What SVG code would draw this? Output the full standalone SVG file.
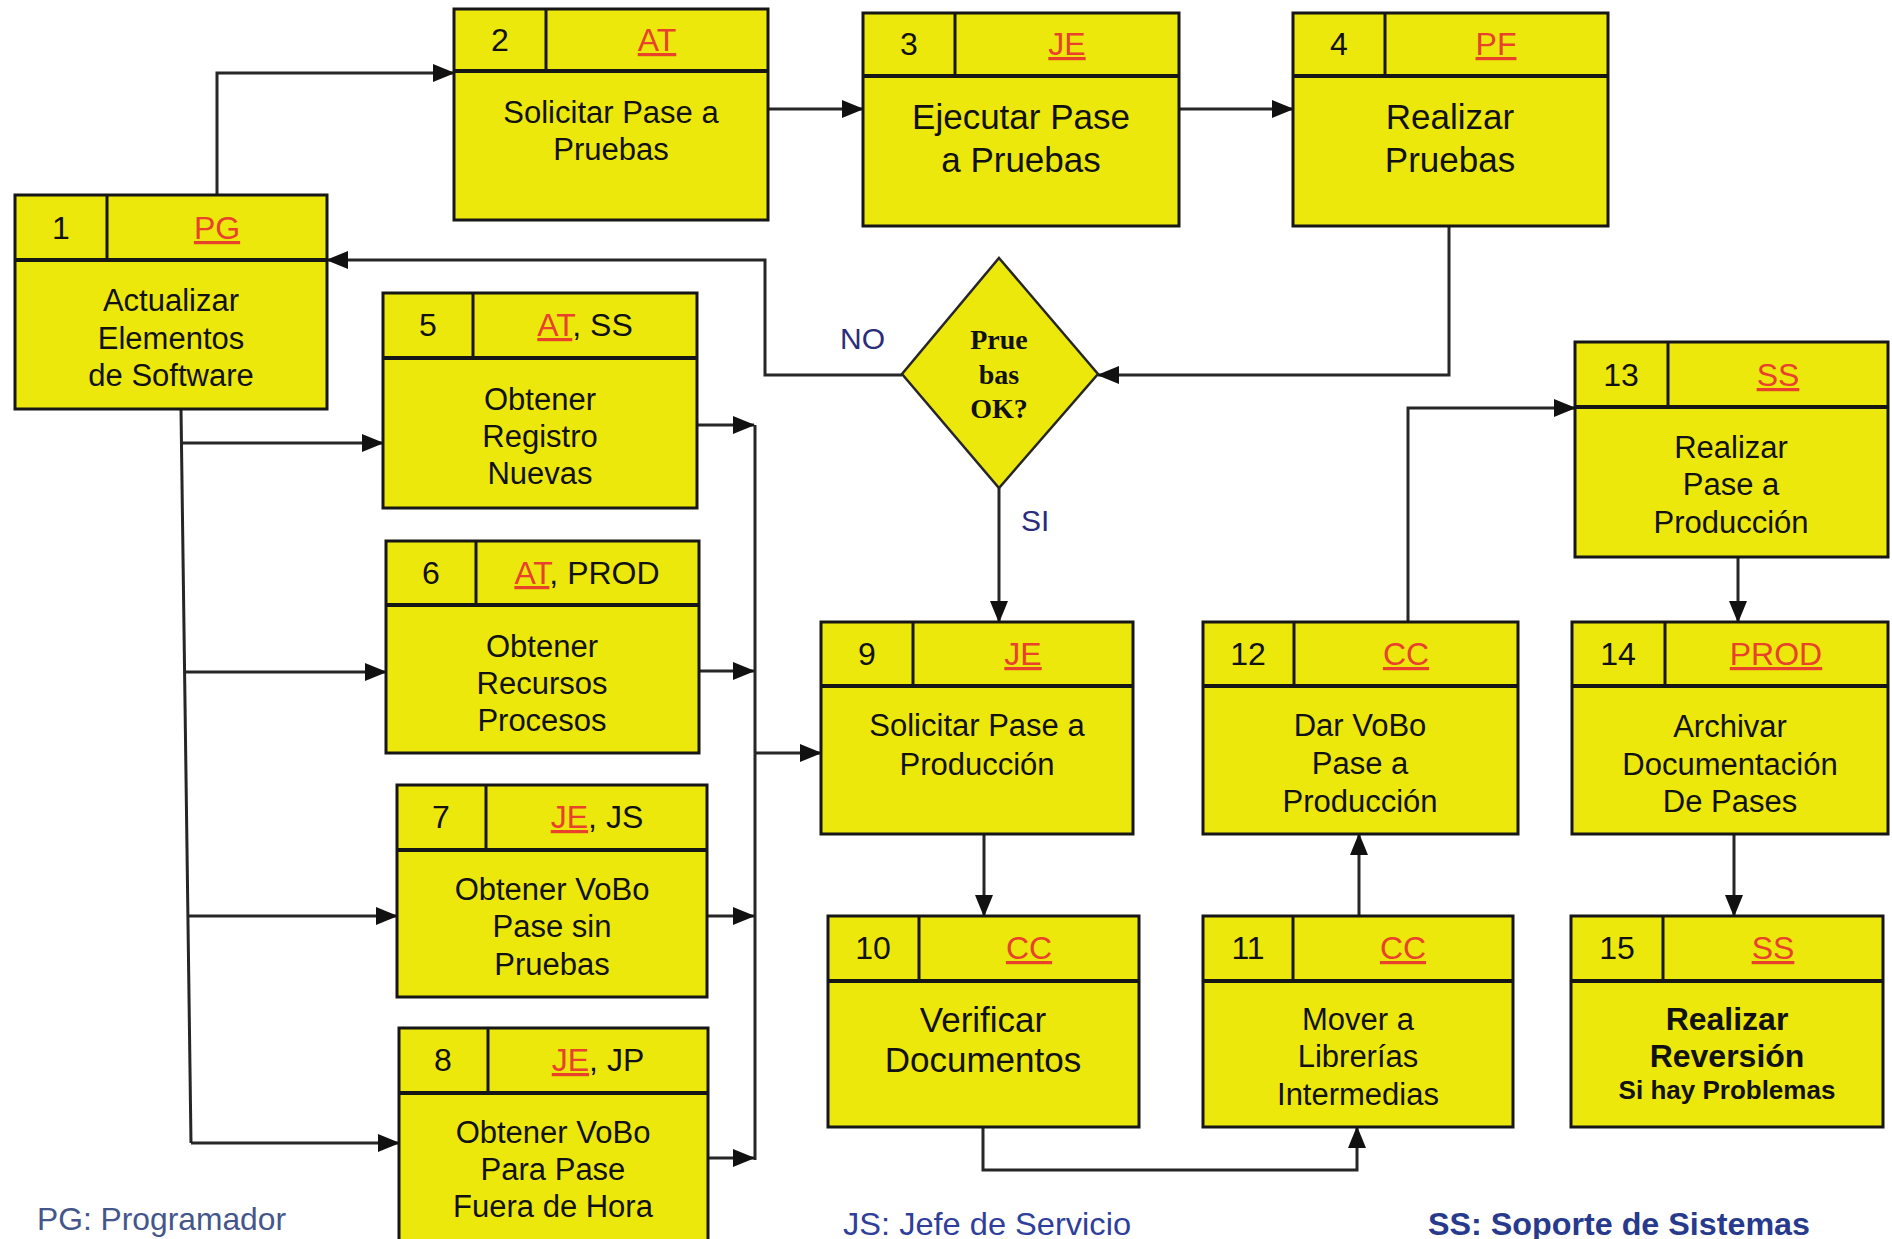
<svg xmlns="http://www.w3.org/2000/svg" width="1892" height="1239" viewBox="0 0 1892 1239">
  <style>
    .box { fill: #ece80c; stroke: #161616; stroke-width: 3; }
    .hsep { stroke: #161616; stroke-width: 4; }
    .vsep { stroke: #161616; stroke-width: 3; }
    .hdr { font-family: "Liberation Sans", Arial, sans-serif; font-size: 32px; fill: #111; text-anchor: middle; }
    .role { fill: #e8412c; text-decoration: underline; }
    .txt { font-family: "Liberation Sans", Arial, sans-serif; font-size: 31px; fill: #111; text-anchor: middle; }
    .big { font-size: 35px; }
    .bold { font-weight: bold; }
    .wire { fill: none; stroke: #262626; stroke-width: 3; }
    .dia { fill: #ece80c; stroke: #262626; stroke-width: 2.5; }
    .dtxt { font-family: "Liberation Serif", "Times New Roman", serif; font-size: 28px; font-weight: bold; fill: #111; text-anchor: middle; }
    .lbl { font-family: "Liberation Sans", Arial, sans-serif; font-size: 30px; fill: #2b2d7c; }
    .legend { font-family: "Liberation Sans", Arial, sans-serif; font-size: 32px; }
  </style>
  <defs>
    <marker id="arrow" markerUnits="userSpaceOnUse" markerWidth="22" markerHeight="18" refX="21" refY="9" orient="auto">
      <path d="M0,0 L22,9 L0,18 Z" fill="#111"/>
    </marker>
  </defs>

  <rect width="1892" height="1239" fill="#ffffff"/>

  <!-- connectors -->
  <g id="connectors">
    <path class="wire" d="M217,195 V73 H454" marker-end="url(#arrow)"/>
    <path class="wire" d="M768,109 H863" marker-end="url(#arrow)"/>
    <path class="wire" d="M1179,109 H1293" marker-end="url(#arrow)"/>
    <path class="wire" d="M1449,226 V375 H1098" marker-end="url(#arrow)"/>
    <path class="wire" d="M902,375 H765 V260 H327" marker-end="url(#arrow)"/>
    <path class="wire" d="M999,488 V622" marker-end="url(#arrow)"/>
    <!-- fan-out from step 1 -->
    <path class="wire" d="M181,409 L191,1143"/>
    <path class="wire" d="M181.5,443 H383" marker-end="url(#arrow)"/>
    <path class="wire" d="M184.6,672 H386" marker-end="url(#arrow)"/>
    <path class="wire" d="M188,916 H397" marker-end="url(#arrow)"/>
    <path class="wire" d="M191,1143 H399" marker-end="url(#arrow)"/>
    <!-- fan-in to step 9 -->
    <path class="wire" d="M697,425 H754" marker-end="url(#arrow)"/>
    <path class="wire" d="M699,671 H754" marker-end="url(#arrow)"/>
    <path class="wire" d="M707,916 H754" marker-end="url(#arrow)"/>
    <path class="wire" d="M708,1158 H754" marker-end="url(#arrow)"/>
    <path class="wire" d="M755,425 V1160"/>
    <path class="wire" d="M755,753 H821" marker-end="url(#arrow)"/>
    <!-- production flow -->
    <path class="wire" d="M984,834 V916" marker-end="url(#arrow)"/>
    <path class="wire" d="M983,1127 V1170 H1357 V1127" marker-end="url(#arrow)"/>
    <path class="wire" d="M1359,916 V834" marker-end="url(#arrow)"/>
    <path class="wire" d="M1408,622 V408 H1575" marker-end="url(#arrow)"/>
    <path class="wire" d="M1738,557 V622" marker-end="url(#arrow)"/>
    <path class="wire" d="M1734,834 V916" marker-end="url(#arrow)"/>
  </g>

  <!-- decision -->
  <g id="decision">
    <polygon class="dia" points="999,258 1098,374 999,488 902,374"/>
    <text class="dtxt" x="999" y="349">Prue</text>
    <text class="dtxt" x="999" y="384">bas</text>
    <text class="dtxt" x="999" y="418">OK?</text>
  </g>
  <text class="lbl" x="840" y="349">NO</text>
  <text class="lbl" x="1021" y="531">SI</text>

  <!-- step 1 -->
  <g id="step1">
    <rect class="box" x="15" y="195" width="312" height="214"/>
    <line class="hsep" x1="15" y1="260" x2="327" y2="260"/>
    <line class="vsep" x1="107" y1="195" x2="107" y2="260"/>
    <text class="hdr" x="61" y="239">1</text>
    <text class="hdr" x="217" y="239"><tspan class="role">PG</tspan></text>
    <text class="txt" x="171" y="311">Actualizar</text>
    <text class="txt" x="171" y="349">Elementos</text>
    <text class="txt" x="171" y="386">de Software</text>
  </g>

  <!-- step 2 -->
  <g id="step2">
    <rect class="box" x="454" y="9" width="314" height="211"/>
    <line class="hsep" x1="454" y1="71" x2="768" y2="71"/>
    <line class="vsep" x1="546" y1="9" x2="546" y2="71"/>
    <text class="hdr" x="500" y="51">2</text>
    <text class="hdr" x="657" y="51"><tspan class="role">AT</tspan></text>
    <text class="txt" x="611" y="123">Solicitar Pase a</text>
    <text class="txt" x="611" y="160">Pruebas</text>
  </g>

  <!-- step 3 -->
  <g id="step3">
    <rect class="box" x="863" y="13" width="316" height="213"/>
    <line class="hsep" x1="863" y1="76" x2="1179" y2="76"/>
    <line class="vsep" x1="955" y1="13" x2="955" y2="76"/>
    <text class="hdr" x="909" y="55">3</text>
    <text class="hdr" x="1067" y="55"><tspan class="role">JE</tspan></text>
    <text class="txt big" x="1021" y="129">Ejecutar Pase</text>
    <text class="txt big" x="1021" y="172">a Pruebas</text>
  </g>

  <!-- step 4 -->
  <g id="step4">
    <rect class="box" x="1293" y="13" width="315" height="213"/>
    <line class="hsep" x1="1293" y1="76" x2="1608" y2="76"/>
    <line class="vsep" x1="1385" y1="13" x2="1385" y2="76"/>
    <text class="hdr" x="1339" y="55">4</text>
    <text class="hdr" x="1496" y="55"><tspan class="role">PF</tspan></text>
    <text class="txt big" x="1450" y="129">Realizar</text>
    <text class="txt big" x="1450" y="172">Pruebas</text>
  </g>

  <!-- step 5 -->
  <g id="step5">
    <rect class="box" x="383" y="293" width="314" height="215"/>
    <line class="hsep" x1="383" y1="358" x2="697" y2="358"/>
    <line class="vsep" x1="473" y1="293" x2="473" y2="358"/>
    <text class="hdr" x="428" y="336">5</text>
    <text class="hdr" x="585" y="336"><tspan class="role">AT</tspan>, SS</text>
    <text class="txt" x="540" y="410">Obtener</text>
    <text class="txt" x="540" y="447">Registro</text>
    <text class="txt" x="540" y="484">Nuevas</text>
  </g>

  <!-- step 6 -->
  <g id="step6">
    <rect class="box" x="386" y="541" width="313" height="212"/>
    <line class="hsep" x1="386" y1="605" x2="699" y2="605"/>
    <line class="vsep" x1="476" y1="541" x2="476" y2="605"/>
    <text class="hdr" x="431" y="584">6</text>
    <text class="hdr" x="587" y="584"><tspan class="role">AT</tspan>, PROD</text>
    <text class="txt" x="542" y="657">Obtener</text>
    <text class="txt" x="542" y="694">Recursos</text>
    <text class="txt" x="542" y="731">Procesos</text>
  </g>

  <!-- step 7 -->
  <g id="step7">
    <rect class="box" x="397" y="785" width="310" height="212"/>
    <line class="hsep" x1="397" y1="850" x2="707" y2="850"/>
    <line class="vsep" x1="486" y1="785" x2="486" y2="850"/>
    <text class="hdr" x="441" y="828">7</text>
    <text class="hdr" x="597" y="828"><tspan class="role">JE</tspan>, JS</text>
    <text class="txt" x="552" y="900">Obtener VoBo</text>
    <text class="txt" x="552" y="937">Pase sin</text>
    <text class="txt" x="552" y="975">Pruebas</text>
  </g>

  <!-- step 8 -->
  <g id="step8">
    <rect class="box" x="399" y="1028" width="309" height="216"/>
    <line class="hsep" x1="399" y1="1093" x2="708" y2="1093"/>
    <line class="vsep" x1="488" y1="1028" x2="488" y2="1093"/>
    <text class="hdr" x="443" y="1071">8</text>
    <text class="hdr" x="598" y="1071"><tspan class="role">JE</tspan>, JP</text>
    <text class="txt" x="553" y="1143">Obtener VoBo</text>
    <text class="txt" x="553" y="1180">Para Pase</text>
    <text class="txt" x="553" y="1217">Fuera de Hora</text>
  </g>

  <!-- step 9 -->
  <g id="step9">
    <rect class="box" x="821" y="622" width="312" height="212"/>
    <line class="hsep" x1="821" y1="686" x2="1133" y2="686"/>
    <line class="vsep" x1="913" y1="622" x2="913" y2="686"/>
    <text class="hdr" x="867" y="665">9</text>
    <text class="hdr" x="1023" y="665"><tspan class="role">JE</tspan></text>
    <text class="txt" x="977" y="736">Solicitar Pase a</text>
    <text class="txt" x="977" y="775">Producción</text>
  </g>

  <!-- step 10 -->
  <g id="step10">
    <rect class="box" x="828" y="916" width="311" height="211"/>
    <line class="hsep" x1="828" y1="981" x2="1139" y2="981"/>
    <line class="vsep" x1="919" y1="916" x2="919" y2="981"/>
    <text class="hdr" x="873" y="959">10</text>
    <text class="hdr" x="1029" y="959"><tspan class="role">CC</tspan></text>
    <text class="txt big" x="983" y="1032">Verificar</text>
    <text class="txt big" x="983" y="1072">Documentos</text>
  </g>

  <!-- step 11 -->
  <g id="step11">
    <rect class="box" x="1203" y="916" width="310" height="211"/>
    <line class="hsep" x1="1203" y1="981" x2="1513" y2="981"/>
    <line class="vsep" x1="1293" y1="916" x2="1293" y2="981"/>
    <text class="hdr" x="1248" y="959">11</text>
    <text class="hdr" x="1403" y="959"><tspan class="role">CC</tspan></text>
    <text class="txt" x="1358" y="1030">Mover a</text>
    <text class="txt" x="1358" y="1067">Librerías</text>
    <text class="txt" x="1358" y="1105">Intermedias</text>
  </g>

  <!-- step 12 -->
  <g id="step12">
    <rect class="box" x="1203" y="622" width="315" height="212"/>
    <line class="hsep" x1="1203" y1="686" x2="1518" y2="686"/>
    <line class="vsep" x1="1294" y1="622" x2="1294" y2="686"/>
    <text class="hdr" x="1248" y="665">12</text>
    <text class="hdr" x="1406" y="665"><tspan class="role">CC</tspan></text>
    <text class="txt" x="1360" y="736">Dar VoBo</text>
    <text class="txt" x="1360" y="774">Pase a</text>
    <text class="txt" x="1360" y="812">Producción</text>
  </g>

  <!-- step 13 -->
  <g id="step13">
    <rect class="box" x="1575" y="342" width="313" height="215"/>
    <line class="hsep" x1="1575" y1="407" x2="1888" y2="407"/>
    <line class="vsep" x1="1668" y1="342" x2="1668" y2="407"/>
    <text class="hdr" x="1621" y="386">13</text>
    <text class="hdr" x="1778" y="386"><tspan class="role">SS</tspan></text>
    <text class="txt" x="1731" y="458">Realizar</text>
    <text class="txt" x="1731" y="495">Pase a</text>
    <text class="txt" x="1731" y="533">Producción</text>
  </g>

  <!-- step 14 -->
  <g id="step14">
    <rect class="box" x="1572" y="622" width="316" height="212"/>
    <line class="hsep" x1="1572" y1="686" x2="1888" y2="686"/>
    <line class="vsep" x1="1665" y1="622" x2="1665" y2="686"/>
    <text class="hdr" x="1618" y="665">14</text>
    <text class="hdr" x="1776" y="665"><tspan class="role">PROD</tspan></text>
    <text class="txt" x="1730" y="737">Archivar</text>
    <text class="txt" x="1730" y="775">Documentación</text>
    <text class="txt" x="1730" y="812">De Pases</text>
  </g>

  <!-- step 15 -->
  <g id="step15">
    <rect class="box" x="1571" y="916" width="312" height="211"/>
    <line class="hsep" x1="1571" y1="981" x2="1883" y2="981"/>
    <line class="vsep" x1="1663" y1="916" x2="1663" y2="981"/>
    <text class="hdr" x="1617" y="959">15</text>
    <text class="hdr" x="1773" y="959"><tspan class="role">SS</tspan></text>
    <text class="txt bold" x="1727" y="1030" style="font-size:32px">Realizar</text>
    <text class="txt bold" x="1727" y="1067" style="font-size:32px">Reversión</text>
    <text class="txt bold" x="1727" y="1099" style="font-size:26px">Si hay Problemas</text>
  </g>

  <!-- legend -->
  <g id="legend">
    <text class="legend" x="37" y="1230" fill="#44568a" textLength="249" lengthAdjust="spacingAndGlyphs">PG: Programador</text>
    <text class="legend" x="843" y="1235" fill="#2f3f9a" textLength="288" lengthAdjust="spacingAndGlyphs">JS: Jefe de Servicio</text>
    <text class="legend bold" x="1428" y="1235" fill="#283a8c" textLength="382" lengthAdjust="spacingAndGlyphs">SS: Soporte de Sistemas</text>
  </g>
</svg>
